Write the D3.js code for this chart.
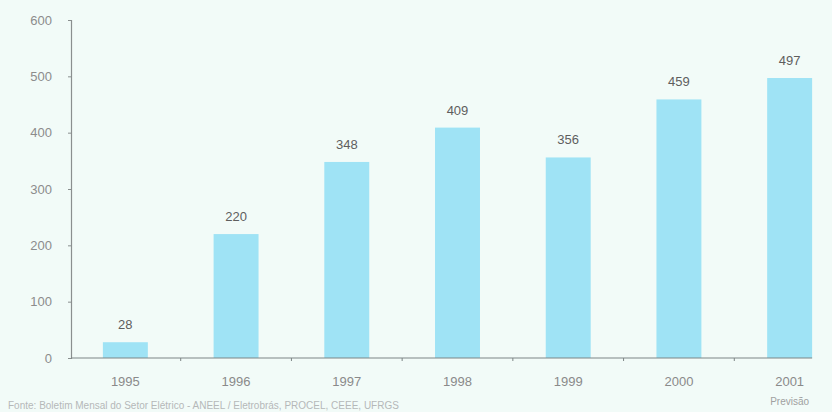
<!DOCTYPE html>
<html>
<head>
<meta charset="utf-8">
<script src="https://cdn.jsdelivr.net/npm/d3@7"></script>
<style>
  body { margin: 0; background: #f2fbf8; }
  svg { display: block; font-family: "Liberation Sans", Arial, sans-serif; }
</style>
</head>
<body>
<script>
// Chart data
var years = ["1995", "1996", "1997", "1998", "1999", "2000", "2001"];
var values = [28, 220, 348, 409, 356, 459, 497];
var yTicks = [0, 100, 200, 300, 400, 500, 600];
var forecastNote = "Previsão";
var sourceNote = "Fonte: Boletim Mensal do Setor Elétrico - ANEEL / Eletrobrás, PROCEL, CEEE, UFRGS";

var width = 832, height = 412;

var svg = d3.select("body").append("svg")
    .attr("width", width)
    .attr("height", height);

svg.append("rect")
    .attr("width", width)
    .attr("height", height)
    .attr("fill", "#f2fbf8");

var x = d3.scaleBand()
    .domain(years)
    .range([70, 845])
    .paddingInner(0.594)
    .paddingOuter(0.297);

var y = d3.scaleLinear()
    .domain([0, 600])
    .range([358, 20]);

// y axis
var yAxis = svg.append("g")
    .attr("transform", "translate(71,0)")
    .call(d3.axisLeft(y).tickValues(yTicks).tickSize(3).tickPadding(16));
yAxis.select(".domain").attr("stroke", "#8a8f8f").attr("stroke-width", 1.2);
yAxis.selectAll(".tick line").attr("stroke", "#8a8f8f");
yAxis.selectAll("text")
    .attr("fill", "#8c8c8c")
    .style("font-size", "13px");

// bars
svg.selectAll(".bar")
    .data(values)
    .enter().append("rect")
    .attr("class", "bar")
    .attr("x", function(d, i) { return x(years[i]); })
    .attr("y", function(d) { return y(d); })
    .attr("width", x.bandwidth())
    .attr("height", function(d) { return y(0) - y(d); })
    .attr("fill", "#9fe3f5");

// value labels
svg.selectAll(".val")
    .data(values)
    .enter().append("text")
    .attr("class", "val")
    .attr("x", function(d, i) { return x(years[i]) + x.bandwidth() / 2; })
    .attr("y", function(d) { return y(d) - 13; })
    .attr("text-anchor", "middle")
    .attr("fill", "#5e5e5e")
    .style("font-size", "13px")
    .text(function(d) { return d; });

// x axis line and boundary ticks
var step = x.step();
svg.append("line")
    .attr("x1", 71).attr("x2", x(years[6]) + x.bandwidth())
    .attr("y1", y(0)).attr("y2", y(0))
    .attr("stroke", "#7d8585")
    .attr("stroke-width", 1.2);

svg.selectAll(".xtick")
    .data(years.slice(1))
    .enter().append("line")
    .attr("class", "xtick")
    .attr("x1", function(d) { return x(d) + x.bandwidth() / 2 - step / 2; })
    .attr("x2", function(d) { return x(d) + x.bandwidth() / 2 - step / 2; })
    .attr("y1", y(0)).attr("y2", y(0) + 3)
    .attr("stroke", "#7d8585");

svg.selectAll(".year")
    .data(years)
    .enter().append("text")
    .attr("class", "year")
    .attr("x", function(d) { return x(d) + x.bandwidth() / 2; })
    .attr("y", 386)
    .attr("text-anchor", "middle")
    .attr("fill", "#8a8a8a")
    .style("font-size", "13px")
    .text(function(d) { return d; });

svg.append("text")
    .attr("x", x(years[6]) + x.bandwidth() / 2)
    .attr("y", 405)
    .attr("text-anchor", "middle")
    .attr("fill", "#a0a0a0")
    .style("font-size", "10px")
    .text(forecastNote);

svg.append("text")
    .attr("x", 8)
    .attr("y", 409)
    .attr("fill", "#b5b8b8")
    .style("font-size", "10px")
    .text(sourceNote);
</script>
</body>
</html>
